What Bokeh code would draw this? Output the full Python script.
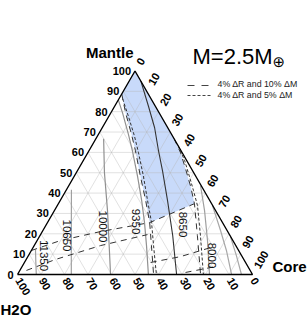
import math
from bokeh.plotting import figure
from bokeh.models import Range1d
from bokeh.embed import file_html
from bokeh.resources import INLINE
from bokeh.core.properties import value

# ---------------- data (ternary %, mantle / core; H2O = 100 - mantle - core)
tick_values = [0, 10, 20, 30, 40, 50, 60, 70, 80, 90, 100]
tick_labels = [str(v) for v in tick_values]

axis_mantle = "Mantle"
axis_core = "Core"
axis_water = "H2O"
title_text = "M=2.5M"
title_symbol = "\u2295"
legend_long = "4% \u0394R and 10% \u0394M"
legend_short = "4% \u0394R and 5% \u0394M"

# iso-radius contours (km)
c11350_m = [12.3, 6.0, 0.0]
c11350_c = [1.5, 4.8, 8.0]
c10650_m = [41.7, 20.0, 0.0]
c10650_c = [2.1, 12.9, 22.9]
c10000_m = [66.7, 50.0, 31.4, 0.0]
c10000_c = [3.3, 12.0, 22.6, 39.6]
c9350_m = [85.8, 79.4, 69.1, 60.8, 48.5, 36.3, 25.5, 14.2, 0.0]
c9350_c = [0.0, 5.0, 12.6, 18.5, 26.8, 34.7, 41.3, 47.8, 55.7]
c8650_m = [95.0, 82.8, 72.1, 60.8, 51.0, 36.3, 19.1, 0.0]
c8650_c = [5.0, 14.3, 22.3, 29.6, 36.2, 45.7, 56.5, 67.7]
c8000_m = [43.6, 31.4, 16.7, 0.0]
c8000_c = [56.1, 63.9, 72.5, 81.7]
cA_m = [33.8, 21.6, 11.8, 0.0]
cA_c = [66.1, 75.6, 83.0, 91.1]
cB_m = [18.6, 9.3, 0.0]
cB_c = [81.3, 88.5, 95.3]

# uncertainty bounds: long dash (10% dM), short dash (5% dM)
ldl_m = [88.7, 79.4, 69.1, 60.8, 48.5, 36.3, 25.5, 14.2, 0.0]
ldl_c = [0.0, 6.3, 13.9, 19.8, 28.0, 36.4, 43.5, 49.9, 57.9]
sdl_m = [86.3, 77.9, 68.1, 59.8, 48.5, 36.3, 25.5, 14.2, 0.0]
sdl_c = [1.6, 8.2, 15.7, 21.6, 29.3, 37.2, 44.3, 50.8, 59.1]
ldr_m = [66.7, 59.8, 52.0, 43.6, 34.8, 19.1, 0.0]
ldr_c = [33.3, 39.5, 45.5, 51.8, 57.9, 67.0, 77.9]
sdr_m = [63.2, 55.9, 48.0, 41.2, 33.8, 19.1, 0.0]
sdr_c = [36.8, 43.2, 49.2, 54.3, 59.7, 68.3, 79.1]
d1_m = [11.8, 16.7, 21.1, 25.5, 34.8]
d1_c = [0.0, 10.0, 24.8, 43.5, 57.9]
d2_m = [2.0, 7.4, 14.2, 19.6]
d2_c = [2.8, 12.5, 28.2, 45.5]
d3_m = [5.9, 8.8, 13.2]
d3_c = [53.7, 65.0, 75.5]
d4_m = [1.0, 3.9]
d4_c = [71.0, 82.3]

# ---------------- layout helpers
K = 2.35
S3 = math.sqrt(3) / 2
OX, OY = 17, 274   # pixel position of the H2O corner


def tern(ms, cs):
    return [c + m / 2 for m, c in zip(ms, cs)], [m * S3 for m in ms]


def page(xp, yp):
    return (xp - OX) / K, (OY - yp) / K


W, H = 307, 321
p = figure(width=W, height=H, output_backend="svg", toolbar_location=None,
           x_range=Range1d(-OX / K, (W - OX) / K),
           y_range=Range1d((OY - H) / K, OY / K),
           min_border=0)
p.axis.visible = False
p.grid.visible = False
p.outline_line_color = None
p.background_fill_color = "white"

# blue region
bx_m = [100.0] + ldl_m[:7] + [ldr_m[4], ldr_m[3], ldr_m[2], ldr_m[1], ldr_m[0]]
bx_c = [0.0] + ldl_c[:7] + [ldr_c[4], ldr_c[3], ldr_c[2], ldr_c[1], ldr_c[0]]
bxs, bys = tern(bx_m, bx_c)
p.patch(bxs, bys, fill_color="#c8dafa", line_color=None)

# grid
gxs, gys = [], []
for v in tick_values[1:-1]:
    for ms, cs in (([v, v], [0, 100 - v]), ([0, 100 - v], [v, v]), ([0, 100 - v], [100 - v, 0])):
        a, b = tern(ms, cs)
        gxs.append(a)
        gys.append(b)
p.multi_line(gxs, gys, line_color="#b4b4b4", line_alpha=0.4, line_width=1)

# contours
for ms, cs, col in ((c11350_m, c11350_c, "#a0a0a0"), (c10650_m, c10650_c, "#a0a0a0"),
                    (c10000_m, c10000_c, "#909090"), (c9350_m, c9350_c, "#909090"),
                    (c8000_m, c8000_c, "#a0a0a0"), (cA_m, cA_c, "#a8a8a8"),
                    (cB_m, cB_c, "#a8a8a8")):
    a, b = tern(ms, cs)
    p.line(a, b, line_color=col, line_width=1.2)
a, b = tern(c8650_m, c8650_c)
p.line(a, b, line_color="#333333", line_width=1.1)

for ms, cs in ((ldl_m, ldl_c), (ldr_m, ldr_c), (d1_m, d1_c), (d2_m, d2_c), (d3_m, d3_c), (d4_m, d4_c)):
    a, b = tern(ms, cs)
    p.line(a, b, line_color="#333333", line_width=1, line_dash="6 5")
for ms, cs in ((sdl_m, sdl_c), (sdr_m, sdr_c)):
    a, b = tern(ms, cs)
    p.line(a, b, line_color="#333333", line_width=1, line_dash="3 2")

# triangle
tx, ty = tern([0, 0, 100, 0], [0, 100, 0, 0])
p.line(tx, ty, line_color="black", line_width=1.4)

FONT = value("Liberation Sans")

# tick labels
lx, ly = tern(tick_values, [0] * 11)
p.text(lx, ly, text=tick_labels, text_font=FONT, text_font_style="bold",
       text_font_size="11px", text_align="right", text_baseline="middle", x_offset=-4)
rx, ry = tern([100 - v for v in tick_values], tick_values)
p.text(rx, ry, text=tick_labels, text_font=FONT, text_font_style="bold",
       text_font_size="11px", text_align="left", text_baseline="middle",
       angle=math.pi / 3, x_offset=4, y_offset=-7)
bxl, byl = tern([0] * 11, [100 - v for v in tick_values])
p.text(bxl, byl, text=tick_labels, text_font=FONT, text_font_style="bold",
       text_font_size="11px", text_align="left", text_baseline="middle",
       angle=-math.pi / 3, x_offset=1, y_offset=4)

# contour labels
clab = ["11350", "10650", "10000", "9350", "8650", "8000"]
cpos = [(43, 255), (66, 235), (102.5, 226), (135, 221), (182, 224), (211, 255)]
cx = [page(*q)[0] for q in cpos]
cy = [page(*q)[1] for q in cpos]
p.text(cx, cy, text=clab, text_font=FONT, text_font_size="11.5px", text_color="#111111",
       text_align="center", text_baseline="middle", angle=-math.pi / 2)

# axis names
for txt, (xp, yp), al in ((axis_mantle, (133, 52), "right"), (axis_core, (272, 266), "left"),
                          (axis_water, (0, 309), "left")):
    x0, y0 = page(xp, yp)
    p.text([x0], [y0], text=[txt], text_font=FONT, text_font_style="bold",
           text_font_size="15px", text_align=al, text_baseline="middle")

# title
x0, y0 = page(192, 56)
p.text([x0], [y0], text=[title_text], text_font=FONT, text_font_size="22px",
       text_align="left", text_baseline="middle")
x0, y0 = page(272, 61)
p.text([x0], [y0], text=[title_symbol], text_font=value("DejaVu Sans"), text_font_size="15px",
       text_align="left", text_baseline="middle")

# legend
for (yl, yt, dash, txt) in ((85, 83, "7 7", legend_long), (95, 94, "3 2", legend_short)):
    xa, ya = page(187, yl)
    xb, yb = page(210, yl)
    p.line([xa, xb], [ya, yb], line_color="#444444", line_width=1, line_dash=dash)
    xt, ytt = page(217, yt)
    p.text([xt], [ytt], text=[txt], text_font=FONT, text_font_size="8.8px",
           text_color="#222222", text_align="left", text_baseline="middle")

open("out.html", "w").write(file_html(p, INLINE))
